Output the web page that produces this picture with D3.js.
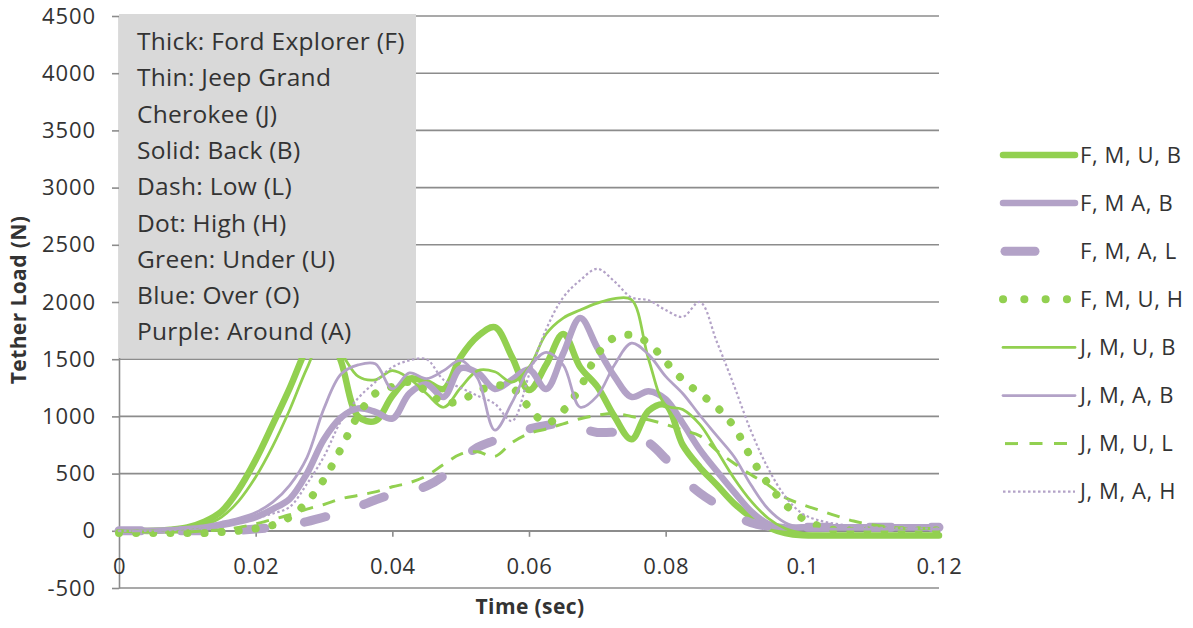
<!DOCTYPE html>
<html>
<head>
<meta charset="utf-8">
<script src="https://cdn.jsdelivr.net/npm/d3@7"></script>
<style>
  body { margin: 0; background: #fff; }
  svg text { font-family: "Open Sans", Lato, sans-serif; fill: #333; }
</style>
</head>
<body>
<svg width="1193" height="628"></svg>
<script>

// time axis samples (sec)
var times = [0, 0.0025, 0.005, 0.0075, 0.01, 0.0125, 0.015, 0.0175, 0.02, 0.0225,
  0.025, 0.0275, 0.03, 0.0325, 0.035, 0.0375, 0.04, 0.0425, 0.045, 0.0475,
  0.05, 0.0525, 0.055, 0.0575, 0.06, 0.0625, 0.065, 0.0675, 0.07, 0.0725,
  0.075, 0.0775, 0.08, 0.0825, 0.085, 0.0875, 0.09, 0.0925, 0.095, 0.0975,
  0.1, 0.1025, 0.105, 0.1075, 0.11, 0.1125, 0.115, 0.1175, 0.12];

// tether load (N) per test
var fmub = [0, 0, 0, 10, 30, 80, 170, 360, 620, 930,
  1250, 1600, 1850, 1480, 1000, 960, 1180, 1330, 1300, 1240,
  1520, 1700, 1780, 1520, 1230, 1450, 1720, 1430, 1260, 1000,
  800, 1050, 1100, 750, 555, 400, 240, 120, 30, -20,
  -40, -40, -40, -40, -40, -40, -40, -40, -40];

var fmab = [0, 0, 0, 5, 15, 30, 50, 80, 120, 190,
  280, 500, 800, 990, 1070, 1040, 980, 1200, 1280, 1170,
  1420, 1380, 1240, 1320, 1410, 1240, 1550, 1860, 1600, 1350,
  1170, 1220, 1150, 940, 710, 520, 340, 170, 60, 30,
  30, 30, 30, 30, 30, 30, 30, 30, 30];

var fmal = [0, 0, 0, 0, 0, 0, 0, 5, 15, 30,
  50, 80, 120, 150, 210, 270, 320, 350, 390, 480,
  620, 730, 790, 850, 890, 920, 940, 900, 860, 860,
  830, 770, 630, 460, 330, 230, 140, 70, 40, 30,
  30, 30, 30, 30, 30, 30, 30, 30, 30];

var fmuh = [-20, -20, -20, -20, -20, -20, -10, 0, 20, 50,
  120, 250, 450, 720, 1010, 1200, 1260, 1300, 1220, 1120,
  1140, 1220, 1270, 1250, 1080, 940, 1050, 1255, 1540, 1690,
  1710, 1640, 1480, 1320, 1200, 1080, 910, 640, 410, 230,
  110, 40, 5, 5, 5, 5, 5, 5, 5];

var jmub = [0, 0, 0, 5, 20, 50, 120, 260, 470, 740,
  1060, 1420, 1700, 1550, 1350, 1320, 1400, 1330, 1200, 1080,
  1250, 1400, 1390, 1300, 1430, 1720, 1860, 1930, 1990, 2030,
  2020, 1500, 1100, 1060, 930, 700, 460, 260, 110, 20,
  -20, -30, -30, -30, -30, -30, -30, -30, -30];

var jmab = [0, 0, 0, 10, 25, 45, 75, 110, 160, 250,
  400, 640, 1070, 1370, 1450, 1460, 1240, 1380, 1330, 1400,
  1490, 1330, 880, 1120, 1420, 1560, 1450, 1080, 1180, 1450,
  1640, 1540, 1350, 1200, 1010, 830, 650, 400, 190, 70,
  25, 15, 15, 15, 15, 15, 15, 15, 15];

var jmul = [0, -10, -10, -10, -10, 0, 10, 30, 60, 100,
  140, 190, 230, 280, 310, 340, 385, 420, 480, 580,
  670, 690, 650, 770, 850, 890, 935, 980, 1010, 1025,
  1000, 970, 930, 880, 830, 700, 590, 490, 400, 290,
  230, 180, 130, 85, 55, 35, 20, 20, 20];

var jmah = [0, 0, 0, 5, 15, 30, 50, 75, 110, 150,
  210, 410, 650, 960, 1160, 1300, 1430, 1490, 1500, 1320,
  1250, 1180, 1110, 960, 1360, 1760, 2040, 2190, 2290, 2180,
  2040, 2015, 1930, 1870, 2000, 1650, 1270, 870, 545, 300,
  150, 90, 60, 40, 30, 25, 20, 20, 20];

var seriesNames = ["F, M, U, B", "F, M A, B", "F, M, A, L", "F, M, U, H",
  "J, M, U, B", "J, M, A, B", "J, M, U, L", "J, M, A, H"];
var seriesValues = [fmub, fmab, fmal, fmuh, jmub, jmab, jmul, jmah];

// axis ticks
var yTicks = [-500, 0, 500, 1000, 1500, 2000, 2500, 3000, 3500, 4000, 4500];
var yTickLabels = ["-500", "0", "500", "1000", "1500", "2000", "2500", "3000", "3500", "4000", "4500"];
var xTicks = [0, 0.02, 0.04, 0.06, 0.08, 0.1, 0.12];
var xTickLabels = ["0", "0.02", "0.04", "0.06", "0.08", "0.1", "0.12"];

// key text in the grey box
var keyLines = ["Thick: Ford Explorer (F)", "Thin: Jeep Grand", "Cherokee (J)",
  "Solid: Back (B)", "Dash: Low (L)", "Dot: High (H)", "Green: Under (U)",
  "Blue: Over (O)", "Purple: Around (A)"];

var green = "#92d050",
    purple = "#b3a2c7",
    gridColor = "#8c8c8c";

// line styles, same order as seriesNames
var styles = [
  {color: green, width: 6.5, dash: null, legendDash: null},
  {color: purple, width: 6.5, dash: null, legendDash: null},
  {color: purple, width: 9, dash: "22,40", legendDash: "30,200", legendStart: 1005},
  {color: green, width: 8, dash: "0.1,17", legendDash: "0.1,21.2"},
  {color: green, width: 2.75, dash: null, legendDash: null},
  {color: purple, width: 2.75, dash: null, legendDash: null},
  {color: green, width: 3, dash: "13,10", legendDash: "13,11.5", legendStart: 1005},
  {color: purple, width: 2.2, dash: "2.5,2.5", legendDash: "2.5,2.5"}
];

var svg = d3.select("svg");

// scales
var x = d3.scaleLinear().domain([0, 0.12]).range([119, 939]);
var y = d3.scaleLinear().domain([-500, 4500]).range([588, 16]);

// gridlines
svg.append("g")
  .selectAll("line")
  .data(yTicks)
  .enter()
  .append("line")
    .attr("x1", x(0))
    .attr("x2", x(0.12))
    .attr("y1", function(d) { return y(d); })
    .attr("y2", function(d) { return y(d); })
    .attr("stroke", gridColor)
    .attr("stroke-width", 1.6);

// y axis
var yAxis = d3.axisLeft(y)
  .tickValues(yTicks)
  .tickFormat(function(d, i) { return yTickLabels[i]; })
  .tickSize(7)
  .tickSizeOuter(0)
  .tickPadding(16);

var gy = svg.append("g")
  .attr("transform", "translate(" + x(0) + ",0)")
  .call(yAxis);

gy.selectAll("text")
  .style("font-size", "22px")
  .style("letter-spacing", "0.9px")
  .attr("fill", "#333");

// x axis sits on the zero line
var xAxis = d3.axisBottom(x)
  .tickValues(xTicks)
  .tickFormat(function(d, i) { return xTickLabels[i]; })
  .tickSize(6)
  .tickSizeOuter(0)
  .tickPadding(22);

var gx = svg.append("g")
  .attr("transform", "translate(0," + y(0) + ")")
  .call(xAxis);

gx.selectAll("text")
  .style("font-size", "22px")
  .style("letter-spacing", "0.6px")
  .attr("fill", "#333");

svg.selectAll(".domain, .tick line")
  .attr("stroke", gridColor)
  .attr("stroke-width", 1.6);

// axis titles
svg.append("text")
  .attr("transform", "translate(26,300) rotate(-90)")
  .attr("text-anchor", "middle")
  .style("font-size", "21px")
  .style("font-weight", "bold")
  .style("letter-spacing", "0.4px")
  .text("Tether Load (N)");

svg.append("text")
  .attr("x", 530)
  .attr("y", 614)
  .attr("text-anchor", "middle")
  .style("font-size", "21px")
  .style("font-weight", "bold")
  .style("letter-spacing", "0.4px")
  .text("Time (sec)");

// the series
var line = d3.line()
  .x(function(d, i) { return x(times[i]); })
  .y(function(d) { return y(d); })
  .curve(d3.curveCatmullRom.alpha(0.5));

seriesValues.forEach(function(vals, i) {
  var s = styles[i];
  svg.append("path")
    .attr("d", line(vals))
    .attr("fill", "none")
    .attr("stroke", s.color)
    .attr("stroke-width", s.width)
    .attr("stroke-linecap", s.dash ? (s.width > 5 ? "round" : "butt") : "round")
    .attr("stroke-linejoin", "round")
    .attr("stroke-dasharray", s.dash);
});

// grey key box on top of the plot
svg.append("rect")
  .attr("x", 119)
  .attr("y", 14)
  .attr("width", 297)
  .attr("height", 344)
  .attr("fill", "#d9d9d9");

svg.append("g")
  .selectAll("text")
  .data(keyLines)
  .enter()
  .append("text")
    .attr("x", 137)
    .attr("y", function(d, i) { return 50 + i * 36.3; })
    .style("font-size", "24.5px")
    .style("letter-spacing", "0.3px")
    .text(function(d) { return d; });

// legend
var legend = svg.append("g");

seriesNames.forEach(function(name, i) {
  var s = styles[i];
  var ly = 155 + i * 48.1;
  legend.append("line")
    .attr("x1", s.legendStart || 1003)
    .attr("x2", 1075)
    .attr("y1", ly)
    .attr("y2", ly)
    .attr("stroke", s.color)
    .attr("stroke-width", s.width)
    .attr("stroke-linecap", s.dash ? (s.width > 5 ? "round" : "butt") : "round")
    .attr("stroke-dasharray", s.legendDash);
  legend.append("text")
    .attr("x", 1080)
    .attr("y", ly)
    .attr("dy", "0.35em")
    .style("font-size", "22px")
    .style("letter-spacing", "0.6px")
    .text(name);
});

</script>
</body>
</html>
